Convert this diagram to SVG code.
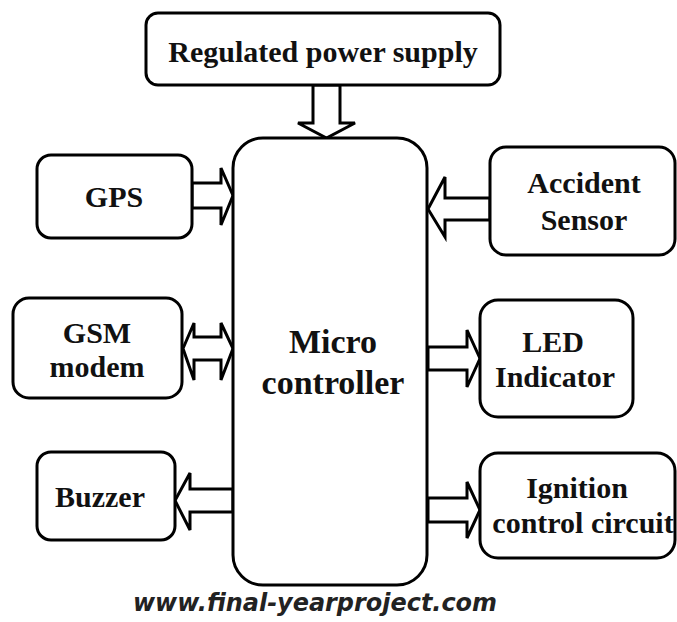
<svg xmlns="http://www.w3.org/2000/svg" width="677" height="622" viewBox="0 0 677 622">
<style>
.box{fill:#fff;stroke:#000;stroke-width:3}
.arr{fill:#fff;stroke:#000;stroke-width:3;stroke-linejoin:miter}
.t{font-family:"Liberation Serif","Times New Roman",serif;font-weight:bold;font-size:30px;fill:#111;text-anchor:middle}
.big{font-size:34px}
.wm{font-family:"DejaVu Sans",sans-serif;font-weight:bold;font-style:italic;font-size:25px;fill:#222}
</style>
<rect width="677" height="622" fill="#fff"/>
<g id="connectors">
<polygon class="arr" points="313,85 313,123 298,123 326.5,138 355,123 340,123 340,85"/>
<polygon class="arr" points="192,183 221,183 221,168 233,195.5 221,225 221,208 192,208"/>
<polygon class="arr" points="183,348.5 194,323 194,337 221,337 221,323 233,348.5 221,380 221,360 194,360 194,380"/>
<polygon class="arr" points="490,198 445,198 445,177 428,209 445,237 445,220 490,220"/>
<polygon class="arr" points="428,347 467,347 467,330 480,358.5 467,387 467,370 428,370"/>
<polygon class="arr" points="233,489 190,489 190,473 175,500.5 190,530 190,512 233,512"/>
<polygon class="arr" points="428,498 467,498 467,482 480,510 467,538 467,522 428,522"/>
</g>
<g id="power">
<rect class="box" x="146" y="13" width="354" height="72" rx="12"/>
<text class="t" x="323" y="62">Regulated power supply</text>
</g>
<g id="micro">
<rect class="box" x="233" y="138" width="194" height="447" rx="30"/>
<text class="t big" x="333" y="353">Micro</text>
<text class="t big" x="333" y="394">controller</text>
</g>
<g id="gps">
<rect class="box" x="37" y="155" width="155" height="83" rx="14"/>
<text class="t" x="114" y="207">GPS</text>
</g>
<g id="gsm">
<rect class="box" x="13" y="298" width="169" height="100" rx="16"/>
<text class="t" x="97" y="343">GSM</text>
<text class="t" x="97" y="377">modem</text>
</g>
<g id="buzzer">
<rect class="box" x="37" y="452" width="138" height="88" rx="14"/>
<text class="t" x="100" y="507">Buzzer</text>
</g>
<g id="accident">
<rect class="box" x="490" y="147" width="185" height="108" rx="16"/>
<text class="t" x="584" y="193">Accident</text>
<text class="t" x="584" y="230">Sensor</text>
</g>
<g id="led">
<rect class="box" x="480" y="300" width="153" height="117" rx="18"/>
<text class="t" x="553" y="352">LED</text>
<text class="t" x="555" y="387">Indicator</text>
</g>
<g id="ignition">
<rect class="box" x="480" y="453" width="195" height="105" rx="18"/>
<text class="t" x="577" y="498">Ignition</text>
<text class="t" x="583" y="533">control circuit</text>
</g>
<text class="wm" x="133" y="611" textLength="364" lengthAdjust="spacingAndGlyphs">www.final-yearproject.com</text>
</svg>
